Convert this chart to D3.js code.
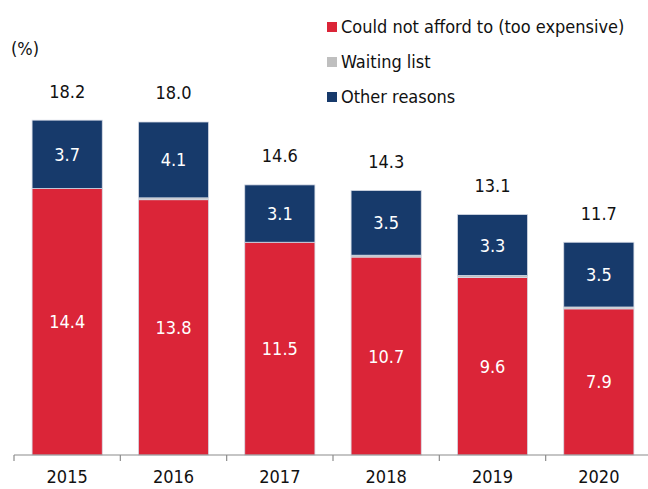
<!DOCTYPE html>
<html>
<head>
<meta charset="utf-8">
<script src="https://cdn.jsdelivr.net/npm/d3@7"></script>
<style>
  body { margin: 0; background: #fff; }
  svg text { font-family: "DejaVu Sans Condensed", "DejaVu Sans", sans-serif; }
</style>
</head>
<body>
<div id="chart"></div>
<script>
// data
const years = ["2015", "2016", "2017", "2018", "2019", "2020"];
const cannotAfford = [14.4, 13.8, 11.5, 10.7, 9.6, 7.9];
const waitingList = [0.0, 0.1, 0.0, 0.1, 0.1, 0.1];
const otherReasons = [3.7, 4.1, 3.1, 3.5, 3.3, 3.5];
const totals = ["18.2", "18.0", "14.6", "14.3", "13.1", "11.7"];

const seriesNames = ["Could not afford to (too expensive)", "Waiting list", "Other reasons"];
const seriesKeys = ["afford", "waiting", "other"];
const colors = ["#db2538", "#bfbfbf", "#173a6b"];

const width = 648, height = 489;
const fontSize = 18;

const rows = years.map((y, i) => ({
    year: y, afford: cannotAfford[i], waiting: waitingList[i], other: otherReasons[i], total: totals[i]
}));

const svg = d3.select("#chart").append("svg")
    .attr("width", width)
    .attr("height", height);

// scales
const x = d3.scaleBand()
    .domain(years)
    .range([14, 652])
    .paddingInner(0.34)
    .paddingOuter(0.17);

const y = d3.scaleLinear()
    .domain([0, 20])
    .range([455, 85]);

const color = d3.scaleOrdinal().domain(seriesKeys).range(colors);

const stacked = d3.stack().keys(seriesKeys)(rows);

// bars
const layers = svg.append("g").selectAll("g")
    .data(stacked)
    .join("g")
    .attr("fill", d => color(d.key));

layers.selectAll("rect")
    .data(d => d)
    .join("rect")
    .attr("x", d => x(d.data.year))
    .attr("y", d => y(d[1]))
    .attr("width", x.bandwidth())
    .attr("height", d => y(d[0]) - y(d[1]))
    .attr("stroke", "#d6dbe6")
    .attr("stroke-width", 0.8);

// segment labels (red + blue)
["afford", "other"].forEach(key => {
    const layer = stacked.find(s => s.key === key);
    svg.append("g").selectAll("text")
        .data(layer)
        .join("text")
        .attr("x", d => x(d.data.year) + x.bandwidth() / 2)
        .attr("y", d => (y(d[0]) + y(d[1])) / 2)
        .attr("dy", "0.36em")
        .attr("text-anchor", "middle")
        .attr("fill", "#fff")
        .attr("font-size", fontSize)
        .text(d => d.data[key].toFixed(1));
});

// totals above bars
const topLayer = stacked[stacked.length - 1];
svg.append("g").selectAll("text")
    .data(topLayer)
    .join("text")
    .attr("x", d => x(d.data.year) + x.bandwidth() / 2)
    .attr("y", d => y(d[1]) - 29)
    .attr("dy", "0.36em")
    .attr("text-anchor", "middle")
    .attr("fill", "#111")
    .attr("font-size", fontSize)
    .text(d => d.data.total);

// x axis
const xAxis = svg.append("g")
    .attr("transform", `translate(0, ${y(0)})`);

xAxis.append("line")
    .attr("x1", x.range()[0])
    .attr("x2", width)
    .attr("stroke", "#8c8c8c")
    .attr("stroke-width", 1.2);

const half = (x.step() - x.bandwidth()) / 2;
xAxis.selectAll(".tick-line")
    .data(years)
    .join("line")
    .attr("class", "tick-line")
    .attr("x1", d => x(d) - half)
    .attr("x2", d => x(d) - half)
    .attr("y1", 0)
    .attr("y2", 6)
    .attr("stroke", "#8c8c8c")
    .attr("stroke-width", 1.2);

xAxis.call(g => g.append("g")
    .call(d3.axisBottom(x).tickSize(0).tickPadding(15))
    .call(a => a.select(".domain").remove())
    .call(a => a.selectAll("text")
        .attr("font-size", fontSize)
        .attr("fill", "#111")
        .style("font-family", '"DejaVu Sans Condensed", "DejaVu Sans", sans-serif')));

// unit label
svg.append("text")
    .attr("x", 11)
    .attr("y", 49)
    .attr("dy", "0.36em")
    .attr("font-size", fontSize)
    .attr("fill", "#111")
    .text("(%)");

// legend
const legend = svg.append("g")
    .attr("transform", "translate(327, 27)");

const item = legend.selectAll("g")
    .data(seriesNames)
    .join("g")
    .attr("transform", (d, i) => `translate(0, ${i * 35})`);

item.append("rect")
    .attr("x", 0)
    .attr("y", -5)
    .attr("width", 10)
    .attr("height", 10)
    .attr("fill", (d, i) => colors[i]);

item.append("text")
    .attr("x", 14)
    .attr("y", 0)
    .attr("dy", "0.36em")
    .attr("font-size", fontSize)
    .attr("fill", "#111")
    .text(d => d);
</script>
</body>
</html>
